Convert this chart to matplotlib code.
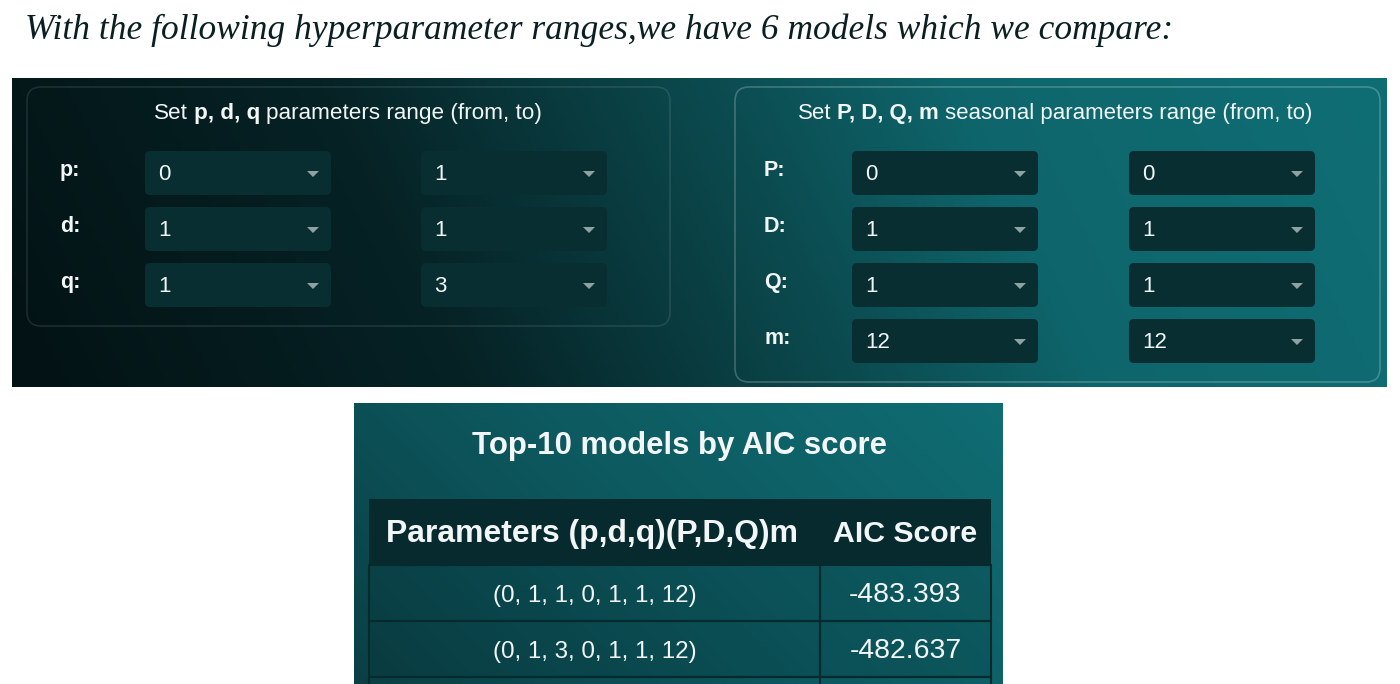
import numpy as np
import matplotlib
matplotlib.use("Agg")
import matplotlib.pyplot as plt
from matplotlib.patches import FancyBboxPatch, Rectangle, Polygon
from matplotlib.colors import LinearSegmentedColormap

W, H = 1400, 684

heading = "With the following hyperparameter ranges,we have 6 models which we compare:"

nonseasonal_names = ["p", "d", "q"]
nonseasonal_from = [0, 1, 1]
nonseasonal_to = [1, 1, 3]

seasonal_names = ["P", "D", "Q", "m"]
seasonal_from = [0, 1, 1, 12]
seasonal_to = [0, 1, 1, 12]

table_title = "Top-10 models by AIC score"
table_columns = ["Parameters (p,d,q)(P,D,Q)m", "AIC Score"]
model_params = [(0, 1, 1, 0, 1, 1, 12), (0, 1, 3, 0, 1, 1, 12)]
aic_scores = [-483.393, -482.637]

SANS = ["Liberation Sans", "DejaVu Sans"]
SERIF = ["Liberation Serif", "DejaVu Serif"]
TXT = "#f2f6f6"
BOX = "#082e31"

fig = plt.figure(figsize=(14, 6.84), dpi=100)
ax = fig.add_axes([0, 0, 1, 1])
ax.set_xlim(0, W)
ax.set_ylim(H, 0)
ax.axis("off")
r = fig.canvas.get_renderer()


def gradient(x0, y0, x1, y1, stops, wx=0.85, wy=0.15):
    gx = np.linspace(0, 1, 500)[None, :]
    gy = np.linspace(0, 1, 150)[:, None]
    t = wx * gx + wy * (1 - gy)
    cmap = LinearSegmentedColormap.from_list("g", stops)
    ax.imshow(t, cmap=cmap, extent=(x0, x1, y1, y0), aspect="auto",
              vmin=0, vmax=1, interpolation="bilinear", zorder=0)


def fit(t, target):
    w = t.get_window_extent(r).width
    t.set_fontsize(t.get_fontsize() * target / w)
    return t


def rich_title(xc, y, parts, target):
    # parts: (string, weight); pieces joined by a space, y is the baseline
    size = 14
    texts = []
    for _ in range(3):
        for t in texts:
            t.remove()
        texts = [ax.text(0, y, s, fontsize=size, fontweight=wt, color=TXT,
                         va="baseline", ha="left", family=SANS, zorder=5)
                 for s, wt in parts]
        a = ax.text(0, 0, "xx", fontsize=size, family=SANS)
        b = ax.text(0, 0, "x x", fontsize=size, family=SANS)
        space = b.get_window_extent(r).width - a.get_window_extent(r).width
        a.remove()
        b.remove()
        widths = [t.get_window_extent(r).width for t in texts]
        total = sum(widths) + space * (len(texts) - 1)
        if abs(total - target) < 1:
            break
        size = size * target / total
    x = xc - total / 2
    for t, w in zip(texts, widths):
        t.set_x(x)
        x += w + space


def dropdown(x0, y0, value):
    ax.add_patch(FancyBboxPatch((x0, y0), 186, 44, boxstyle="round,pad=0,rounding_size=5",
                                fc=BOX, ec="none", zorder=2))
    ax.text(x0 + 13, y0 + 29, str(value), fontsize=16, color=TXT, family=SANS,
            va="baseline", ha="left", zorder=5)
    ax.add_patch(Polygon([(x0 + 162, y0 + 20), (x0 + 174, y0 + 20), (x0 + 168, y0 + 26)],
                         closed=True, fc="#8fa2a3", ec="none", zorder=5))


# heading
h = ax.text(25, 30, heading, fontsize=21, style="italic", color="#0a1f22",
            family=SERIF, va="center", ha="left")
fit(h, 1145)

# top panel
top_stops = [(0.0, "#031214"), (0.3, "#062225"), (0.5, "#0a4246"),
             (0.72, "#0e666c"), (1.0, "#0f6e74")]
gradient(12, 78, 1387, 387, top_stops, wx=0.9, wy=0.1)
ax.add_patch(FancyBboxPatch((27, 87), 643, 239, boxstyle="round,pad=0,rounding_size=14",
                            fc="none", ec=(1, 1, 1, 0.10), lw=1.2, zorder=1))
ax.add_patch(FancyBboxPatch((735, 87), 645, 295, boxstyle="round,pad=0,rounding_size=14",
                            fc="none", ec=(1, 1, 1, 0.22), lw=1.2, zorder=1))

rich_title(348, 119, [("Set", "normal"), ("p, d, q", "bold"),
                      ("parameters range (from, to)", "normal")], 386)
rich_title(1055, 119, [("Set", "normal"), ("P, D, Q, m", "bold"),
                       ("seasonal parameters range (from, to)", "normal")], 514)

for i, (name, lo, hi) in enumerate(zip(nonseasonal_names, nonseasonal_from, nonseasonal_to)):
    y0 = 151 + 56 * i
    ax.text(60, y0 + 25, name + ":", fontsize=15.5, fontweight="bold", color=TXT,
            family=SANS, va="baseline", ha="left", zorder=5)
    dropdown(145, y0, lo)
    dropdown(421, y0, hi)

for i, (name, lo, hi) in enumerate(zip(seasonal_names, seasonal_from, seasonal_to)):
    y0 = 151 + 56 * i
    ax.text(764, y0 + 25, name + ":", fontsize=15.5, fontweight="bold", color=TXT,
            family=SANS, va="baseline", ha="left", zorder=5)
    dropdown(852, y0, lo)
    dropdown(1129, y0, hi)

# bottom panel
gradient(354, 403, 1003, 684, ["#0a4045", "#0d5a60", "#0f6d73"], wx=0.7, wy=0.3)
t = ax.text(680, 454, table_title, fontsize=20, fontweight="bold", color=TXT,
            family=SANS, va="baseline", ha="center", zorder=5)
fit(t, 415)

tx0, tx1, xdiv = 369, 991, 820
ax.add_patch(Rectangle((tx0, 499), tx1 - tx0, 66, fc="#072a2e", ec="none", zorder=2))
t = ax.text((tx0 + xdiv) / 2 - 2, 542, table_columns[0], fontsize=20, fontweight="bold",
            color=TXT, family=SANS, va="baseline", ha="center", zorder=5)
fit(t, 412)
t = ax.text((xdiv + tx1) / 2, 542, table_columns[1], fontsize=20, fontweight="bold",
            color=TXT, family=SANS, va="baseline", ha="center", zorder=5)
fit(t, 145)

row_h = 56
for i, (params, score) in enumerate(zip(model_params, aic_scores)):
    y0 = 565 + row_h * i
    for xa, xb in [(tx0, xdiv), (xdiv, tx1)]:
        ax.add_patch(Rectangle((xa, y0), xb - xa, row_h, fc=(0.02, 0.15, 0.17, 0.18),
                               ec="#062a2d", lw=1.5, zorder=2))
    label = "(" + ", ".join(str(v) for v in params) + ")"
    t = ax.text((tx0 + xdiv) / 2, y0 + 37, label, fontsize=16, color=TXT,
                family=SANS, va="baseline", ha="center", zorder=5)
    fit(t, 204)
    t = ax.text((xdiv + tx1) / 2, y0 + 37, f"{score:.3f}", fontsize=16, color=TXT,
                family=SANS, va="baseline", ha="center", zorder=5)
    fit(t, 112)

# next row peeks in at the bottom edge
ax.add_patch(Rectangle((tx0, 565 + row_h * 2), tx1 - tx0, 20, fc="none",
                       ec="#062a2d", lw=1.5, zorder=2))
ax.plot([xdiv, xdiv], [565 + row_h * 2, H], color="#062a2d", lw=1.5, zorder=3)

fig.savefig("out.png", dpi=100)
plt.close()
